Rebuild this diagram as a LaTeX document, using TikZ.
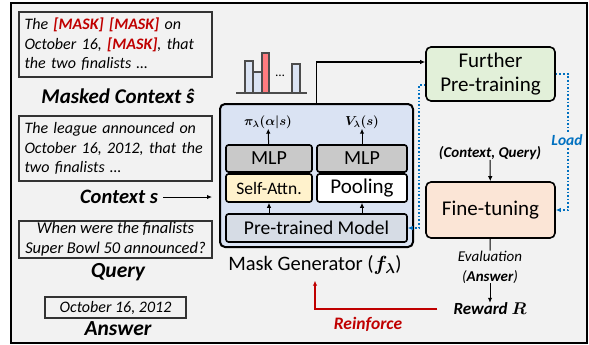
\documentclass[tikz,border=0pt]{standalone}
\usepackage{fix-cm}
\usepackage{amsmath,bm}
\usepackage{fontspec}
\setmainfont{Carlito}
\usepackage{xcolor}
\usetikzlibrary{positioning, arrows.meta}

\definecolor{panelbg}{HTML}{F2F2F2}
\definecolor{maskred}{HTML}{C00000}
\definecolor{genblue}{HTML}{DAE3F3}
\definecolor{mlpgray}{HTML}{C9C9C9}
\definecolor{attnyellow}{HTML}{FFF2CC}
\definecolor{ptmblue}{HTML}{D6DCE5}
\definecolor{furthergreen}{HTML}{E2F0D9}
\definecolor{fineorange}{HTML}{FBE5D6}
\definecolor{loadblue}{HTML}{0070C0}
\definecolor{barred}{HTML}{FF7C80}

\begin{document}
\begin{tikzpicture}[
  x=1pt, y=-1pt,
  >={Latex[length=5pt,width=4.5pt]},
  every node/.style={inner sep=0pt},
  textbox/.style={draw=black!80, line width=1.2pt, text width=182pt, inner xsep=5.5pt, align=left, minimum height=65pt, font=\fontsize{16}{19.5}\selectfont\itshape},
  qbox/.style={draw=black!80, line width=1.2pt, align=center, font=\fontsize{16.5}{20}\selectfont\itshape},
  biglabel/.style={font=\fontsize{21.5}{24}\selectfont\bfseries\itshape},
  block/.style={draw=black, line width=1.6pt, rounded corners=2.5pt, align=center, font=\fontsize{20}{22}\selectfont},
  stage/.style={draw=black, line width=1.6pt, rounded corners=5pt, align=center, minimum width=129pt, font=\fontsize{21}{24}\selectfont},
  loadline/.style={loadblue, dotted, line width=1.6pt, ->},
  smalllabel/.style={font=\fontsize{15}{20}\selectfont, align=center}
]
% Frame and margins
\useasboundingbox (0,0) rectangle (589,345);
\draw[fill=panelbg, line width=1.5pt] (11,3) rectangle (587,343);

% Input side: masked context, context, query, answer
\node[textbox] (masked) at (115.5,44.5)
  {The \textcolor{maskred}{\bfseries [MASK] [MASK]} on\\October 16, \textcolor{maskred}{\bfseries [MASK]}, that\\the two finalists \dots};
\node[biglabel, font=\fontsize{21}{24}\selectfont\bfseries\itshape] (maskedlbl) at (118,96) {Masked Context ŝ};
\node[textbox] (ctx) at (115.5,148.5)
  {The league announced on\\October 16, 2012, that the\\two finalists \dots};
\node[biglabel, font=\fontsize{20.5}{22}\selectfont\bfseries\itshape] (ctxlbl) at (119,197) {Context s};
\node[qbox, minimum width=193pt, minimum height=37pt] (query) at (115.5,239.5)
  {When were the finalists\\Super Bowl 50 announced?};
\node[biglabel] (querylbl) at (118,272) {Query};
\node[qbox, minimum width=141pt, minimum height=21pt, font=\fontsize{16}{18}\selectfont\itshape] (answer) at (115.5,307.5) {October 16, 2012};
\node[biglabel] (answerlbl) at (118,329) {Answer};

% Mask generator
\node[draw=black, line width=2pt, rounded corners=5pt, fill=genblue, minimum width=193pt, minimum height=143pt] (gen) at (316.5,175.5) {};
\node[block, fill=mlpgray, minimum width=86pt, minimum height=27pt] (mlpa) at (269,158.5) {MLP};
\node[block, fill=mlpgray, minimum width=90pt, minimum height=27pt] (mlpb) at (362,158.5) {MLP};
\node[block, fill=attnyellow, minimum width=86pt, minimum height=28pt, font=\fontsize{17.5}{20}\selectfont] (attn) at (269,188) {Self-Attn.};
\node[block, fill=white, minimum width=90pt, minimum height=28pt, font=\fontsize{21}{22}\selectfont] (pool) at (362,188) {Pooling};
\node[block, fill=ptmblue, minimum width=181pt, minimum height=28pt, font=\fontsize{19.5}{22}\selectfont] (ptm) at (316.5,228) {Pre-trained Model};
\node[font=\fontsize{13}{15}\selectfont] (policy) at (268,122) {$\bm{\pi_\lambda(\alpha|s)}$};
\node[font=\fontsize{13}{15}\selectfont] (value) at (362,122) {$\bm{V_\lambda(s)}$};
\node[font=\fontsize{20.5}{23}\selectfont] (genlbl) at (315,265) {Mask Generator ($\bm{f_\lambda}$)};

\draw[->, line width=1pt] (ptm.north -| attn) -- (attn);
\draw[->, line width=1pt] (ptm.north -| pool) -- (pool);
\draw[->, line width=1pt] (mlpa) -- (policy);
\draw[->, line width=1pt] (mlpb) -- (value);
\draw[->, line width=1pt] (ctxlbl.east) ++(5,0) coordinate (ctxtail) -- ([xshift=-7pt]gen.west |- ctxlbl);

% Mask distribution
\begin{scope}[draw=black!70, line width=1.1pt]
  \filldraw[fill=genblue] (245,93) rectangle (253,61);
  \filldraw[fill=genblue] (253,93) rectangle (262,72);
  \filldraw[fill=barred] (262,93) rectangle (269,53);
  \filldraw[fill=genblue] (292,93) rectangle (300,64);
  \draw (236,93) -- (307,93);
\end{scope}
\node (bardots) at (280,76) {\fontsize{13}{15}\selectfont\dots};

% Training stages
\node[stage, fill=furthergreen, minimum height=54pt] (further) at (490.5,74) {Further\\Pre-training};
\node[stage, fill=fineorange, minimum height=56pt] (fine) at (490.5,210) {Fine-tuning};
\node[smalllabel, font=\fontsize{15}{17}\selectfont\bfseries\itshape] (cq) at (490,153) {(Context, Query)};
\node[smalllabel, font=\fontsize{15}{20}\selectfont\itshape] (eval) at (490,267) {Evaluation\\(\textbf{Answer})};
\node[font=\fontsize{17}{19}\selectfont\bfseries\itshape] (reward) at (490,309) {Reward $\bm{R}$};

\draw[->, line width=1.4pt] (gen.north) |- ([yshift=12pt]further.west);
\draw[->, line width=1pt] (cq) -- (fine);
\draw[line width=1pt] (fine) -- (eval);
\draw[->, line width=1pt] (eval) -- (reward);

% Load weights
\draw[loadline] (further.east) -- ++(12,0) |- (fine.east);
\node[font=\fontsize{15.5}{17}\selectfont\bfseries\itshape, text=loadblue, fill=panelbg, inner sep=1pt] (load) at (567,140) {Load};
\draw[loadline] ([yshift=-11pt]further.west) -- ++(-6,0) |- (ptm.east);

% Reinforce
\draw[->, maskred, line width=1.6pt] ([xshift=-16pt]reward.west) -| ([yshift=-6pt]genlbl.south);
\node[font=\fontsize{17.5}{20}\selectfont\bfseries\itshape, text=maskred] (reinforce) at (368,324) {Reinforce};

\end{tikzpicture}
\end{document}
